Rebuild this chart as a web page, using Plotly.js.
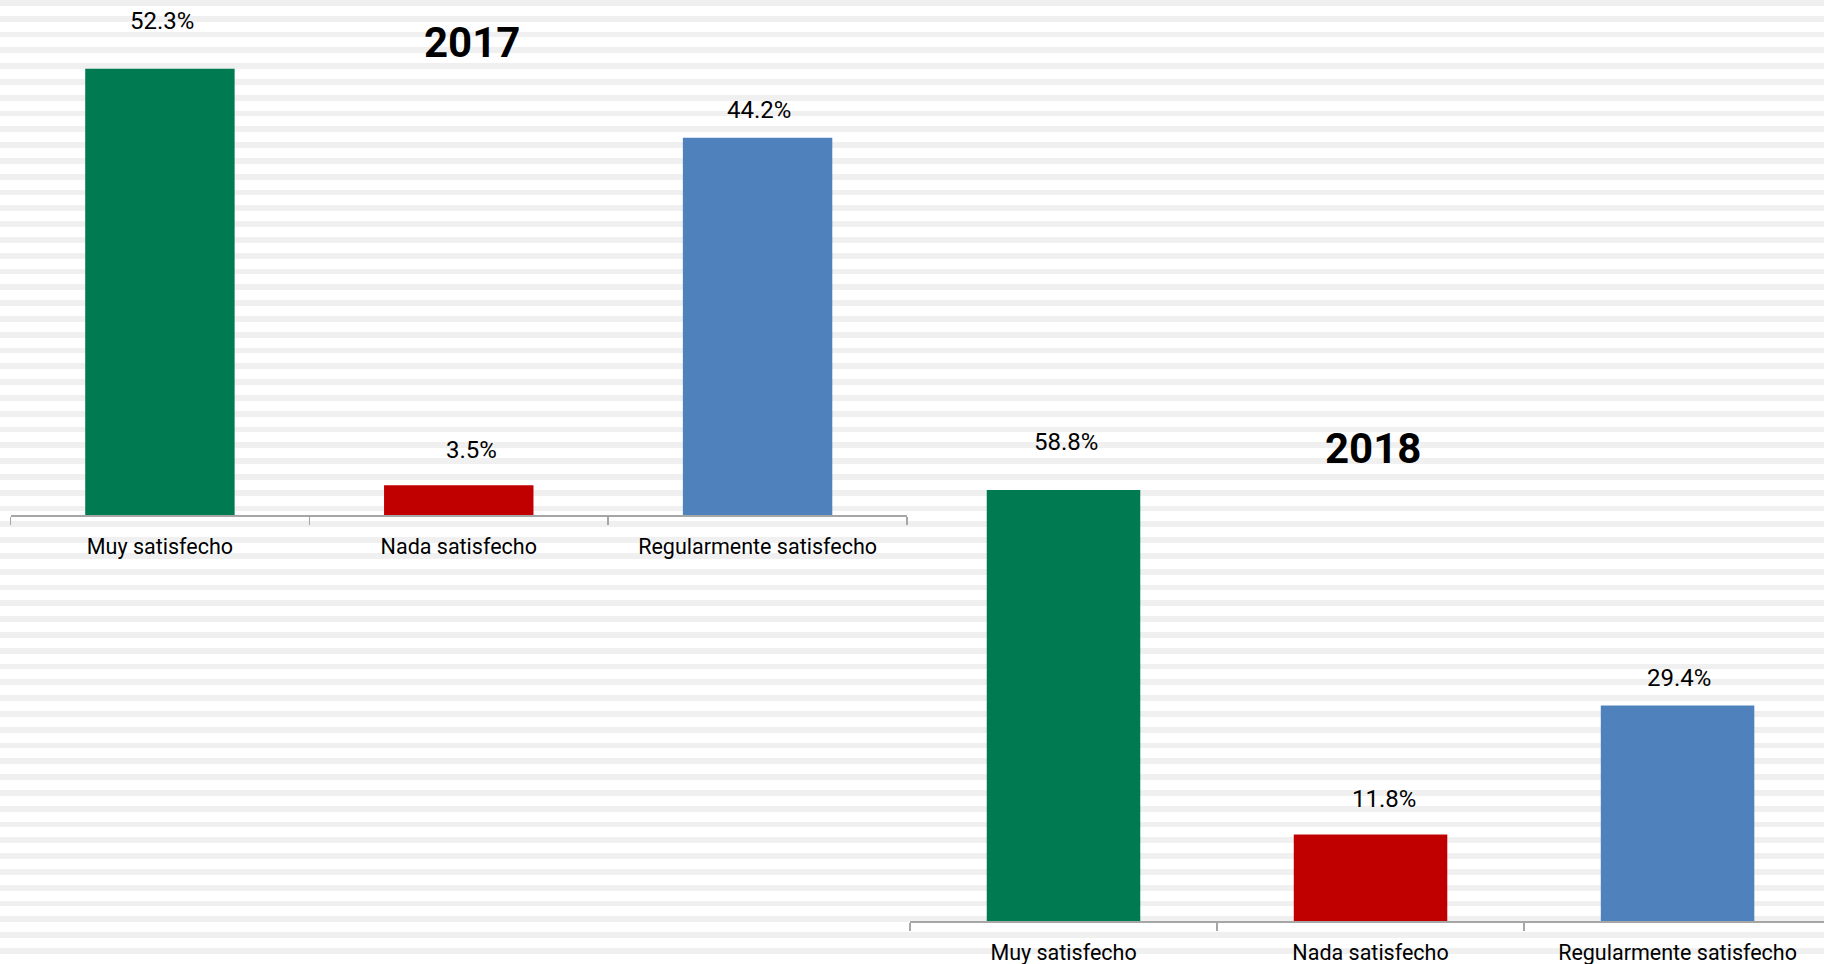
<!DOCTYPE html>
<html>
<head>
<meta charset="utf-8">
<script src="https://cdn.plot.ly/plotly-3.0.1.min.js"></script>
<style>
  html, body { margin: 0; padding: 0; background: #ffffff; }
  #chart {
    width: 1824px; height: 964px;
    background: repeating-linear-gradient(to bottom, #f0f0f0 0px, #f0f0f0 5.8px, #ffffff 5.8px, #ffffff 15.8px);
  }
</style>
</head>
<body>
<div id="chart"></div>
<script>
// ---- data ----
const categories = ["Muy satisfecho", "Nada satisfecho", "Regularmente satisfecho"];
const values2017 = [52.3, 3.5, 44.2];
const values2018 = [58.8, 11.8, 29.4];
const yearTitles = ["2017", "2018"];
const barColors = ["#007B51", "#C00000", "#4F81BD"];

// ---- style: offsets (px) of each category's value label relative to its bar top ----
const labelShiftYPx = [48, 35.5, 28];
const labelShiftXPx = [2, 13, 1];

const FONT = "Roboto, 'Liberation Sans', sans-serif";

const traces = [
  { type: "bar", x: categories, y: values2017, xaxis: "x", yaxis: "y",
    marker: { color: barColors }, hoverinfo: "x+y", showlegend: false },
  { type: "bar", x: categories, y: values2018, xaxis: "x2", yaxis: "y2",
    marker: { color: barColors }, hoverinfo: "x+y", showlegend: false }
];

function labelAnns(vals, xref, yref) {
  return vals.map((v, i) => ({
    x: categories[i], y: v, xref: xref, yref: yref,
    text: v.toFixed(1) + "%", showarrow: false,
    yanchor: "middle", yshift: labelShiftYPx[i], xshift: labelShiftXPx[i],
    font: { family: FONT, size: 24, color: "#000000" }
  }));
}

const xBase = {
  type: "category", showgrid: false, zeroline: false,
  showline: true, linecolor: "#a6a6a6", linewidth: 1.5,
  ticks: "outside", tickson: "boundaries", ticklen: 8, tickcolor: "#a6a6a6", tickwidth: 1.5,
  ticklabelstandoff: 12,
  tickfont: { family: FONT, size: 21.5, color: "#000000" },
  fixedrange: true
};
const yBase = { visible: false, showgrid: false, zeroline: false, range: [0, 60], fixedrange: true };

const layout = {
  width: 1824, height: 964,
  margin: { l: 0, r: 0, t: 0, b: 0 },
  paper_bgcolor: "rgba(0,0,0,0)",
  plot_bgcolor: "rgba(0,0,0,0)",
  bargap: 0.5,
  xaxis: Object.assign({}, xBase, { domain: [10.5 / 1824, 907 / 1824], range: [-0.5, 2.5], anchor: "y" }),
  yaxis: Object.assign({}, yBase, { domain: [1 - 515 / 964, 1 - 3 / 964], anchor: "x" }),
  xaxis2: Object.assign({}, xBase, { domain: [910 / 1824, 1], range: [-0.5, 2.477], anchor: "y2" }),
  yaxis2: Object.assign({}, yBase, { domain: [1 - 921 / 964, 1 - 481 / 964], range: [0, 60.03], anchor: "x2" }),
  annotations: [
    ...labelAnns(values2017, "x", "y"),
    ...labelAnns(values2018, "x2", "y2"),
    { text: "<b>" + yearTitles[0] + "</b>", xref: "paper", yref: "paper", x: 472 / 1824, y: 1 - 43 / 964,
      xanchor: "center", yanchor: "middle", showarrow: false,
      font: { family: FONT, size: 42, color: "#000000" } },
    { text: "<b>" + yearTitles[1] + "</b>", xref: "paper", yref: "paper", x: 1373 / 1824, y: 1 - 448 / 964,
      xanchor: "center", yanchor: "middle", showarrow: false,
      font: { family: FONT, size: 42, color: "#000000" } }
  ]
};

Plotly.newPlot("chart", traces, layout, { displayModeBar: false, staticPlot: true });
</script>
</body>
</html>
